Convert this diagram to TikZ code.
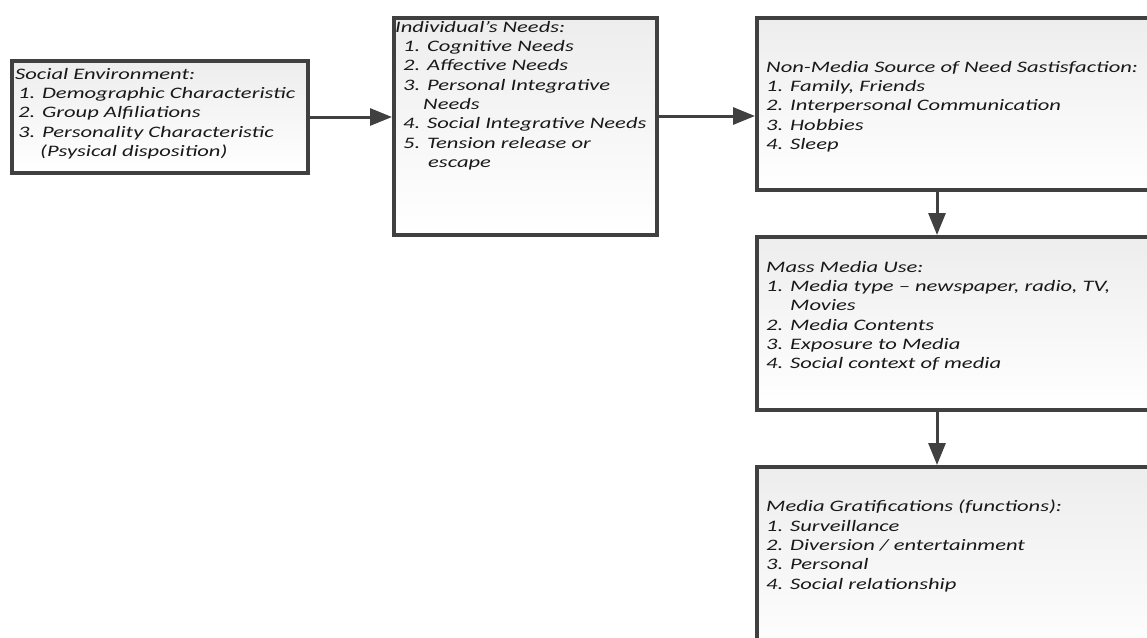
\documentclass[tikz,border=0pt]{standalone}
\usepackage{fontspec}
\setmainfont{Carlito}
\newfontfamily\widefont[FakeStretch=1.41,Ligatures=TeX]{Carlito}
\usetikzlibrary{arrows.meta}
\definecolor{edge}{HTML}{404040}
\tikzset{
  box/.style={draw=edge, line width=3.5pt, top color=gray!14, bottom color=white, anchor=north west, inner sep=0pt},
  txt/.style={anchor=north west, inner sep=0pt, align=left, text=black!90,
    font=\widefont\fontsize{16}{19.3}\selectfont\itshape},
  conn/.style={draw=edge, line width=3pt, -{Triangle[length=22pt,width=17pt]}}
}
\begin{document}
\begin{tikzpicture}[x=1pt,y=-1pt]
\clip (0,0) rectangle (1147,637);
\fill[white] (0,0) rectangle (1147,637);
\node[box, minimum width=296pt, minimum height=112pt] (b1) at (10,59) {};
\node[box, minimum width=263pt, minimum height=217pt] (b2) at (392,16) {};
\node[box, minimum width=405pt, minimum height=172pt] (b3) at (755,16) {};
\node[box, minimum width=405pt, minimum height=173pt] (b4) at (755,235) {};
\node[box, minimum width=405pt, minimum height=200pt] (b5) at (755,465) {};

\node[txt] (t1) at (15,68) {Social Environment:\\
\hspace*{3pt}1. Demographic Characteristic\\
\hspace*{3pt}2. Group Alfiliations\\
\hspace*{3pt}3. Personality Characteristic\\
\hspace*{25pt}(Psysical disposition)};

\node[txt] (t2) at (395,21) {Individual’s Needs:\\
\hspace*{8pt}1. Cognitive Needs\\
\hspace*{8pt}2. Affective Needs\\
\hspace*{8pt}3. Personal Integrative\\
\hspace*{28pt}Needs\\
\hspace*{8pt}4. Social Integrative Needs\\
\hspace*{8pt}5. Tension release or\\
\hspace*{33pt}escape};

\node[txt] (t3) at (766,61) {Non-Media Source of Need Sastisfaction:\\
1. Family, Friends\\
2. Interpersonal Communication\\
3. Hobbies\\
4. Sleep};

\node[txt] (t4) at (766,261) {Mass Media Use:\\
1. Media type – newspaper, radio, TV,\\
\hspace*{24pt}Movies\\
2. Media Contents\\
3. Exposure to Media\\
4. Social context of media};

\node[txt] (t5) at (766,500) {Media Gratifications (functions):\\
1. Surveillance\\
2. Diversion / entertainment\\
3. Personal\\
4. Social relationship};

\coordinate (ya) at (0,117);
\coordinate (yb) at (0,116);
\coordinate (xv) at (937,0);
\draw[conn] (b1.east |- ya) -- (b2.west |- ya);
\draw[conn] (b2.east |- yb) -- (b3.west |- yb);
\draw[conn] (b3.south -| xv) -- (b4.north -| xv);
\draw[conn] (b4.south -| xv) -- (b5.north -| xv);
\end{tikzpicture}
\end{document}
